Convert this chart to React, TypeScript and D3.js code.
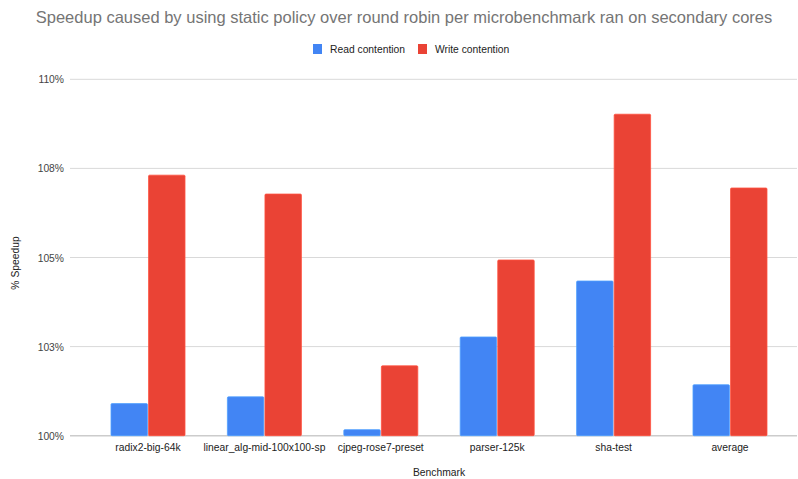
import * as d3 from 'd3'

const categories = [
  'radix2-big-64k',
  'linear_alg-mid-100x100-sp',
  'cjpeg-rose7-preset',
  'parser-125k',
  'sha-test',
  'average',
]
const readContention = [100.9, 101.09, 100.17, 102.77, 104.34, 101.43]
const writeContention = [107.31, 106.78, 101.96, 104.93, 109.02, 106.95]
const seriesNames = ['Read contention', 'Write contention']
const seriesColors = ['#4285F4', '#EA4335']
const yTicks = [100, 102.5, 105, 107.5, 110]
const yTickLabels = ['100%', '103%', '105%', '108%', '110%']

export default function App() {
  const W = 798
  const H = 479
  const plot = { left: 70, right: 797, top: 79.3, bottom: 435.7 }

  const y = d3.scaleLinear().domain([100, 110]).range([plot.bottom, plot.top])
  const x = d3.scaleBand<string>().domain(categories).range([89.8, 788.2]).paddingInner(0).paddingOuter(0)
  const inner = d3.scaleBand<number>().domain([0, 1]).range([x.bandwidth() / 2 - 37, x.bandwidth() / 2 + 37]).paddingInner(0.03)

  const series = [readContention, writeContention]
  const font = 'Arial, "Liberation Sans", sans-serif'
  const fs = 10.3

  return (
    <svg width={W} height={H} style={{ position: 'absolute', left: 0, top: 0, background: '#fff' }} fontFamily={font}>
      <text x={404} y={23} textAnchor="middle" fontSize={16.5} fill="#757575">
        Speedup caused by using static policy over round robin per microbenchmark ran on secondary cores
      </text>

      {/* legend */}
      {seriesNames.map((name, i) => {
        const lx = i === 0 ? 313 : 418
        return (
          <g key={name}>
            <rect x={lx} y={44} width={9} height={10} fill={seriesColors[i]} />
            <text x={lx + 17} y={53} fontSize={fs} fill="#222">
              {name}
            </text>
          </g>
        )
      })}

      {/* grid */}
      {yTicks.map((t, i) => (
        <g key={t}>
          <line
            x1={plot.left}
            x2={plot.right}
            y1={y(t)}
            y2={y(t)}
            stroke={t === 100 ? '#cccccc' : '#d9d9d9'}
            strokeWidth={t === 100 ? 1.5 : 1}
          />
          <text x={64} y={y(t) + 4} textAnchor="end" fontSize={fs} fill="#444">
            {yTickLabels[i]}
          </text>
        </g>
      ))}

      {/* bars */}
      {categories.map((c, ci) => (
        <g key={c} transform={`translate(${x(c)},0)`}>
          {series.map((s, si) => (
            <rect
              key={si}
              x={inner(si)}
              y={y(s[ci])}
              width={inner.bandwidth()}
              height={y(100) - y(s[ci])}
              fill={seriesColors[si]}
              stroke={d3.color(seriesColors[si])!.brighter(0.5).formatHex()}
              strokeWidth={0.8}
              rx={1}
            />
          ))}
          <text x={x.bandwidth() / 2} y={451} textAnchor="middle" fontSize={fs} fill="#222">
            {c}
          </text>
        </g>
      ))}

      <text x={439} y={476} textAnchor="middle" fontSize={fs} fill="#222">
        Benchmark
      </text>
      <text transform="translate(19,263) rotate(-90)" textAnchor="middle" fontSize={fs} fill="#222">
        % Speedup
      </text>
    </svg>
  )
}
